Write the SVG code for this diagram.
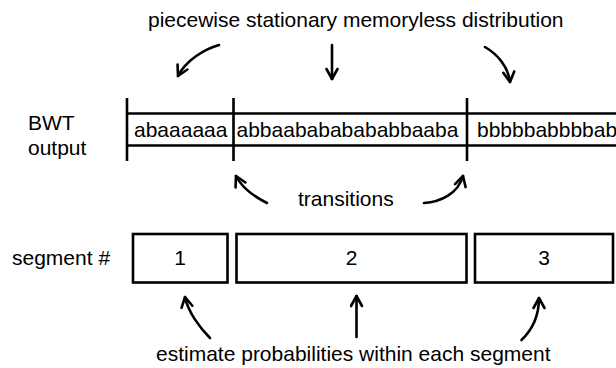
<svg xmlns="http://www.w3.org/2000/svg" width="616" height="368" viewBox="0 0 616 368">
<style>
text{font-family:"Liberation Sans",Arial,Helvetica,sans-serif;font-size:21px;fill:#000}
.ln{stroke:#000;stroke-width:2.6;fill:none}
.box{stroke:#000;stroke-width:2.6;fill:#fff}
.arr{stroke:#000;stroke-width:2.6;fill:none;stroke-linecap:round;marker-end:url(#ah)}
</style>
<defs>
<marker id="ah" markerUnits="userSpaceOnUse" viewBox="-12 -7 14 14" markerWidth="14" markerHeight="14" refX="0" refY="0" orient="auto">
<path d="M-10,-5.5 L0,0 L-10,5.5" fill="none" stroke="#000" stroke-width="2.6" stroke-linecap="round" stroke-linejoin="round"/>
</marker>
</defs>
<rect width="616" height="368" fill="#fff"/>
<g id="label-top"><text x="148" y="27">piecewise stationary memoryless distribution</text></g>
<g id="label-bwt"><text x="28" y="130">BWT</text><text x="28" y="155">output</text></g>
<g id="bwt-strip">
<path class="ln" d="M127,113.5 H616 M127,145.5 H616 M127,98 V161 M233.5,98 V161 M467,98 V161"/>
</g>
<g id="bwt-seg1"><text x="134" y="137">abaaaaaa</text></g>
<g id="bwt-seg2"><text x="236.5" y="137">abbaabababababbaaba</text></g>
<g id="bwt-seg3"><text x="477" y="137">bbbbbabbbbab</text></g>
<g id="label-transitions"><text x="298" y="206">transitions</text></g>
<g id="label-segment"><text x="12" y="265">segment #</text></g>
<g id="seg1"><rect class="box" x="133" y="234" width="94.5" height="48.5"/><text x="180" y="265" text-anchor="middle">1</text></g>
<g id="seg2"><rect class="box" x="236.5" y="234" width="230" height="48.5"/><text x="351.5" y="265" text-anchor="middle">2</text></g>
<g id="seg3"><rect class="box" x="475" y="234" width="138" height="48.5"/><text x="544" y="265" text-anchor="middle">3</text></g>
<g id="label-bottom"><text x="156" y="361">estimate probabilities within each segment</text></g>
<g id="connectors">
<path class="arr" d="M219,45 C205,49 186,60 178,76"/>
<path class="arr" d="M332,45 L332,79"/>
<path class="arr" d="M485,47 C497,54 508,66 510,82"/>
<path class="arr" d="M267,203 C255,197 242,188 236,176"/>
<path class="arr" d="M424,203 C440,202 458,194 463,176"/>
<path class="arr" d="M210,338 C200,328 188,312 185,297"/>
<path class="arr" d="M356.5,337 L356.5,296"/>
<path class="arr" d="M521.5,340 C532,330 539,315 539,298"/>
</g>
</svg>
